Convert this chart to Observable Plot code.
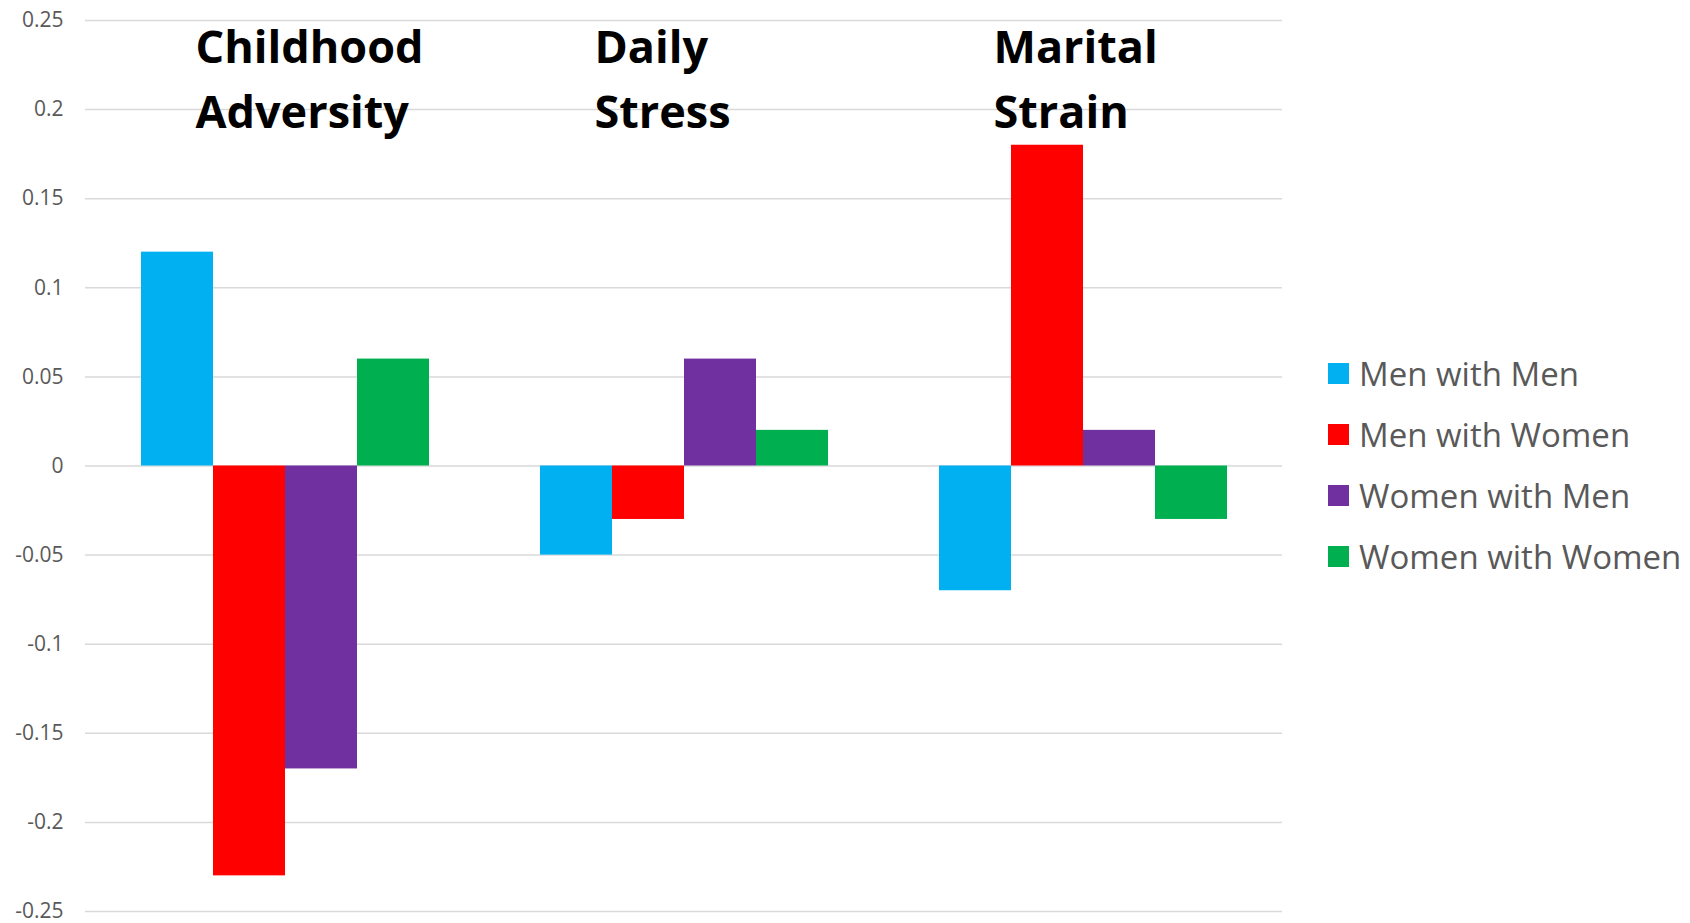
<!DOCTYPE html>
<html>
<head>
<meta charset="utf-8">
<script src="https://cdn.jsdelivr.net/npm/d3@7"></script>
<script src="https://cdn.jsdelivr.net/npm/@observablehq/plot@0.6"></script>
<style>
  body { margin: 0; background: #fff; }
  #wrap { position: relative; width: 1690px; height: 923px; overflow: hidden; }
  #legend { position: absolute; left: 1328px; top: 342.5px; font-family: "Open Sans", sans-serif; font-size: 33px; color: #595959; }
  .row { display: flex; align-items: center; height: 61px; white-space: nowrap; }
  .sw { width: 21px; height: 21px; margin-right: 10px; flex: none; }
</style>
</head>
<body>
<div id="wrap"></div>
<script>
const categories = ["Childhood Adversity", "Daily Stress", "Marital Strain"];
const series = ["Men with Men", "Men with Women", "Women with Men", "Women with Women"];
const childhoodAdversity = [0.12, -0.23, -0.17, 0.06];
const dailyStress = [-0.05, -0.03, 0.06, 0.02];
const maritalStrain = [-0.07, 0.18, 0.02, -0.03];
const seriesColors = ["#00b0f0", "#ff0000", "#7030a0", "#00b050"];
const yTicks = [0.25, 0.2, 0.15, 0.1, 0.05, 0, -0.05, -0.1, -0.15, -0.2, -0.25];

const valuesByCategory = [childhoodAdversity, dailyStress, maritalStrain];
const rows = [];
categories.forEach((c, i) => series.forEach((s, j) => rows.push({category: c, series: s, value: valuesByCategory[i][j]})));
const labels = categories.map(c => ({category: c, text: c.split(" ").join("\n")}));

const chart = Plot.plot({
  width: 1690,
  height: 923,
  marginLeft: 84,
  marginRight: 407,
  marginTop: 20,
  marginBottom: 12,
  style: {fontFamily: "Open Sans, sans-serif", color: "#595959", background: "#fff"},
  fx: {axis: null, domain: categories, padding: 0, label: null},
  x: {axis: null, domain: series, paddingInner: 0, paddingOuter: 0.75, label: null},
  y: {domain: [-0.25, 0.25], axis: null, label: null},
  color: {domain: series, range: seriesColors},
  marks: [
    Plot.ruleY(yTicks, {stroke: "#d9d9d9", strokeWidth: 1.5}),
    Plot.barY(rows, {fx: "category", x: "series", y: "value", fill: "series"}),
    Plot.axisY(yTicks, {ticks: yTicks, label: null, tickSize: 0, tickPadding: 22, fontSize: 21, fill: "#595959", tickFormat: d => String(d)}),
    Plot.text(labels, {fx: "category", text: "text", frameAnchor: "top-left", textAnchor: "start", lineAnchor: "top", dx: 110, dy: -3, fontSize: 45, fontWeight: "bold", fill: "black", lineHeight: 1.43})
  ]
});
document.getElementById("wrap").appendChild(chart);

const legend = document.createElement("div");
legend.id = "legend";
series.forEach((s, i) => {
  const r = document.createElement("div");
  r.className = "row";
  const sw = document.createElement("span");
  sw.className = "sw";
  sw.style.background = seriesColors[i];
  const t = document.createElement("span");
  t.textContent = s;
  r.appendChild(sw); r.appendChild(t);
  legend.appendChild(r);
});
document.getElementById("wrap").appendChild(legend);
</script>
</body>
</html>
